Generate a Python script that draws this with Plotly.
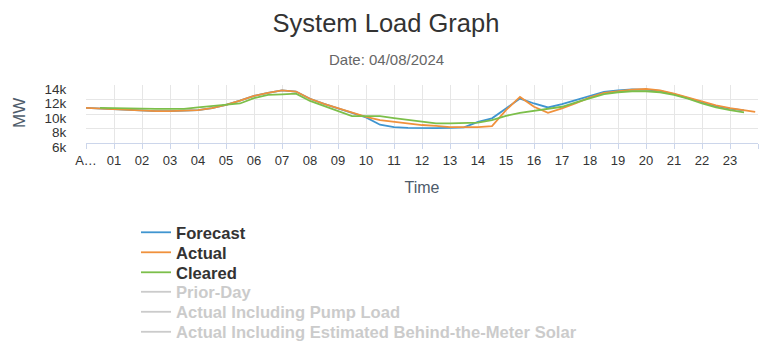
import plotly.graph_objects as go

# ---- data (MW) ----
actual_hours = [0, 0.5, 1, 1.5, 2, 2.5, 3, 3.5, 4, 4.5, 5, 5.5, 6, 6.5, 7, 7.5, 8, 8.5, 9, 9.5,
                10, 10.5, 11, 11.5, 12, 12.5, 13, 13.5, 14, 14.5, 15, 15.5, 16, 16.5, 17, 17.5,
                18, 18.5, 19, 19.5, 20, 20.5, 21, 21.5, 22, 22.5, 23, 23.5, 23.9]
actual_mw = [10850, 10750, 10630, 10550, 10440, 10400, 10400, 10450, 10530, 10800, 11260, 11850,
             12500, 12900, 13270, 13100, 12100, 11400, 10800, 10160, 9600, 9160, 8900, 8700,
             8480, 8350, 8200, 8200, 8200, 8340, 10530, 12360, 11000, 10160, 10770, 11500,
             12300, 12900, 13180, 13370, 13450, 13270, 12820, 12270, 11670, 11180, 10800,
             10530, 10300]

forecast_hours = [0, 0.5, 1, 1.5, 2, 2.5, 3, 3.5, 4, 4.5, 5, 5.5, 6, 6.5, 7, 7.5, 8, 8.5, 9, 9.5,
                  10, 10.5, 11, 11.5, 12, 12.5, 13, 13.5, 14, 14.5, 15, 15.5, 16, 16.5, 17, 17.5,
                  18, 18.5, 19, 19.5, 20, 20.5, 21, 21.5, 22, 22.5, 23, 23.5]
forecast_mw = [10850, 10750, 10630, 10550, 10440, 10400, 10400, 10450, 10530, 10800, 11260, 11850,
               12500, 12900, 13270, 13100, 12100, 11400, 10800, 10160, 9530, 8520, 8200, 8100,
               8030, 8050, 8100, 8150, 8900, 9400, 10770, 12130, 11450, 10900, 11350, 11900,
               12500, 13040, 13270, 13400, 13370, 13180, 12750, 12200, 11600, 11100, 10750, 10500]

cleared_hours = [0.5, 1, 1.5, 2, 2.5, 3, 3.5, 4, 4.5, 5, 5.5, 6, 6.5, 7, 7.5, 8, 8.5, 9, 9.5,
                 10, 10.5, 11, 11.5, 12, 12.5, 13, 13.5, 14, 14.5, 15, 15.5, 16, 16.5, 17, 17.5,
                 18, 18.5, 19, 19.5, 20, 20.5, 21, 21.5, 22, 22.5, 23, 23.5]
cleared_mw = [10850, 10850, 10800, 10750, 10700, 10700, 10700, 10900, 11100, 11300, 11450, 12200,
              12630, 12700, 12800, 11800, 11100, 10440, 9700, 9700, 9700, 9440, 9200, 8930,
              8700, 8700, 8700, 8800, 9160, 9750, 10160, 10440, 10630, 11000, 11600, 12200,
              12730, 13000, 13140, 13140, 13000, 12630, 12130, 11450, 10900, 10530, 10220]

# series switched off in the reference legend (no values shown)
hidden_series = ["Prior-Day", "Actual Including Pump Load",
                 "Actual Including Estimated Behind-the-Meter Solar"]
hidden_values = [None]

tick_hours = list(range(0, 25))
tick_labels = ["A\u2026"] + [f"{h:02d}" for h in range(1, 24)] + [""]
y_ticks = [6000, 8000, 10000, 12000, 14000]
y_labels = ["6k", "8k", "10k", "12k", "14k"]

FONT = "Liberation Sans, Arial, Helvetica, sans-serif"
W, H = 771, 355

fig = go.Figure()
fig.add_trace(go.Scatter(x=forecast_hours, y=forecast_mw, mode="lines", name="Forecast",
                         legend="legend", line=dict(color="#3f95d0", width=1.8)))
fig.add_trace(go.Scatter(x=actual_hours, y=actual_mw, mode="lines", name="Actual",
                         legend="legend2", line=dict(color="#f0913c", width=1.8)))
fig.add_trace(go.Scatter(x=cleared_hours, y=cleared_mw, mode="lines", name="Cleared",
                         legend="legend3", line=dict(color="#7cbf4a", width=1.8)))
for i, nm in enumerate(hidden_series):
    fig.add_trace(go.Scatter(x=[0], y=hidden_values, mode="lines", visible="legendonly",
                             name=f"<span style='color:#999999'>{nm}</span>",
                             legend=f"legend{4 + i}",
                             line=dict(color="#999999", width=1.8)))

legend_centers = [232.5, 252.5, 272.5, 292, 312, 332]
legends = {}
for i, yc in enumerate(legend_centers):
    key = "legend" if i == 0 else f"legend{i + 1}"
    legends[key] = dict(orientation="v", xref="container", yref="container",
                        x=136 / W, xanchor="left", y=1 - yc / H, yanchor="middle",
                        font=dict(size=16.6, color="#333333", family=FONT, weight="bold"),
                        itemclick=False, itemdoubleclick=False,
                        bgcolor="rgba(0,0,0,0)", borderwidth=0)

fig.update_layout(
    width=W, height=H,
    margin=dict(l=86, r=13, t=85, b=212, autoexpand=False),
    paper_bgcolor="white", plot_bgcolor="white",
    font=dict(family=FONT, color="#333333"),
    title=dict(text="System Load Graph", x=386 / W, xanchor="center",
               y=1 - 23 / H, yanchor="middle",
               font=dict(size=25.5, color="#333333", family=FONT)),
    showlegend=True,
    **legends,
)
fig.add_annotation(text="Date: 04/08/2024", xref="paper", yref="paper",
                   x=(386 - 86) / 672, y=(143 - 59) / 58,
                   xanchor="center", yanchor="middle", showarrow=False,
                   font=dict(size=15, color="#666666", family=FONT))
fig.add_annotation(text="MW", xref="paper", yref="paper", textangle=-90,
                   x=(19 - 86) / 672, y=(143 - 113) / 58,
                   xanchor="center", yanchor="middle", showarrow=False,
                   font=dict(size=17, color="#4d5b6a", family=FONT))

fig.update_xaxes(range=[0, 24], tickmode="array", tickvals=tick_hours, ticktext=tick_labels,
                 tickangle=0,
                 showgrid=True, gridcolor="#e6e6e6", gridwidth=1,
                 showline=True, linecolor="#ccd6eb", linewidth=1,
                 ticks="outside", ticklen=5, tickcolor="#ccd6eb",
                 tickfont=dict(size=13, color="#333333"),
                 title=dict(text="Time", font=dict(size=16, color="#4d5b6a"), standoff=15),
                 zeroline=False, fixedrange=True)
fig.update_yaxes(range=[6000, 14000], tickmode="array", tickvals=y_ticks, ticktext=y_labels,
                 showgrid=True, gridcolor="#e6e6e6", gridwidth=1, showline=False,
                 ticks="outside", ticklen=16, tickcolor="rgba(0,0,0,0)",
                 ticklabelshift=4,
                 tickfont=dict(size=13.5, color="#333333"),
                 zeroline=False, fixedrange=True)

fig.write_html("out.html", config={"displayModeBar": False},
               post_script="document.body.style.margin='0';")
